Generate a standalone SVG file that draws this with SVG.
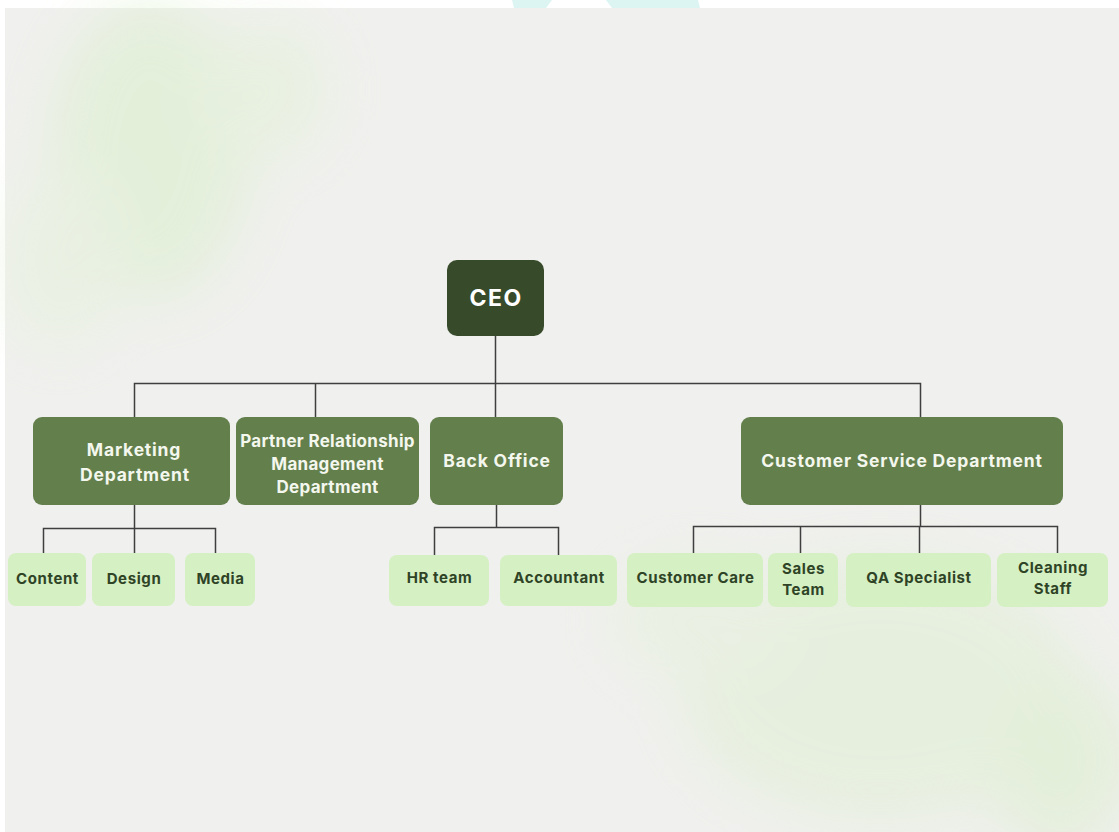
<svg xmlns="http://www.w3.org/2000/svg" width="1119" height="832" viewBox="0 0 1119 832">
  <defs>
    <filter id="wash" x="-50%" y="-50%" width="200%" height="200%">
      <feGaussianBlur stdDeviation="28"/>
    </filter>
    <style>
      .dept rect { fill: #637f4b; }
      .dept text { fill: #f4f7ee; font-family: Inter, "Liberation Sans", sans-serif; font-weight: 700; font-size: 17.5px; letter-spacing: 0.8px; text-anchor: middle; }
      #partner text { font-size: 17px; letter-spacing: 0.3px; }
      .team rect { fill: #d5f0c3; }
      .team text { fill: #2f4426; font-family: Inter, "Liberation Sans", sans-serif; font-weight: 700; font-size: 15px; letter-spacing: 0.6px; text-anchor: middle; }
      .links path { fill: none; stroke: #3f3f3f; stroke-width: 1.5; }
    </style>
  </defs>

  <!-- paper -->
  <rect x="0" y="0" width="1119" height="832" fill="#ffffff"/>
  <rect x="5" y="8" width="1114" height="824" fill="#f0f0ee"/>

  <!-- logo fragment above the paper -->
  <polygon points="512,0 552,0 546,8 514,8" fill="#ddf5f2"/>
  <polygon points="606,0 698,0 700,8 612,8" fill="#ddf5f2"/>

  <!-- soft watercolour washes -->
  <g filter="url(#wash)" opacity="0.45">
    <ellipse cx="150" cy="150" rx="100" ry="150" fill="#d6efc4"/>
    <ellipse cx="270" cy="90" rx="60" ry="70" fill="#e0f2d2"/>
    <ellipse cx="60" cy="260" rx="60" ry="90" fill="#e2f2d6"/>
    <ellipse cx="880" cy="690" rx="200" ry="130" fill="#dcefcc"/>
    <ellipse cx="1060" cy="760" rx="70" ry="90" fill="#d5eec2"/>
    <ellipse cx="700" cy="620" rx="90" ry="60" fill="#e2f1d6"/>
  </g>

  <!-- connectors -->
  <g class="links" id="connectors">
    <path d="M495.5,336 V383.5"/>
    <path d="M134.5,417 V383.5 H920.5 V417"/>
    <path d="M315.5,383.5 V417"/>
    <path d="M495.5,383.5 V417"/>
    <path d="M134.5,505 V528.5"/>
    <path d="M43.5,553 V528.5 H215.5 V553"/>
    <path d="M134.5,528.5 V553"/>
    <path d="M496.5,505 V527.5"/>
    <path d="M434.5,555 V527.5 H558.5 V555"/>
    <path d="M920.5,505 V526.5"/>
    <path d="M693.5,553 V526.5 H1057.5 V553"/>
    <path d="M800.5,526.5 V553"/>
    <path d="M919.5,526.5 V553"/>
  </g>

  <!-- top -->
  <g id="ceo">
    <rect x="447" y="260" width="97" height="76" rx="10" fill="#374b2b"/>
    <text x="496" y="306" fill="#ffffff" font-family="Inter, 'Liberation Sans', sans-serif" font-weight="700" font-size="23" letter-spacing="1.5" text-anchor="middle">CEO</text>
  </g>

  <!-- departments -->
  <g id="marketing" class="dept">
    <rect x="33" y="417" width="197" height="88" rx="9"/>
    <text x="134" y="456">Marketing</text>
    <text x="135" y="481">Department</text>
  </g>
  <g id="partner" class="dept">
    <rect x="236" y="417" width="183" height="88" rx="9"/>
    <text x="327.5" y="447">Partner Relationship</text>
    <text x="327.5" y="470">Management</text>
    <text x="327.5" y="493">Department</text>
  </g>
  <g id="back-office" class="dept">
    <rect x="430" y="417" width="133" height="88" rx="9"/>
    <text x="497" y="467">Back Office</text>
  </g>
  <g id="customer-service" class="dept">
    <rect x="741" y="417" width="322" height="88" rx="9"/>
    <text x="902" y="467">Customer Service Department</text>
  </g>

  <!-- teams -->
  <g id="content" class="team">
    <rect x="8" y="553" width="78" height="53" rx="8"/>
    <text x="47.5" y="584">Content</text>
  </g>
  <g id="design" class="team">
    <rect x="92" y="553" width="83" height="53" rx="8"/>
    <text x="134" y="584">Design</text>
  </g>
  <g id="media" class="team">
    <rect x="185" y="553" width="70" height="53" rx="8"/>
    <text x="220.5" y="584">Media</text>
  </g>
  <g id="hr-team" class="team">
    <rect x="389" y="555" width="100" height="51" rx="8"/>
    <text x="439.5" y="583">HR team</text>
  </g>
  <g id="accountant" class="team">
    <rect x="500" y="555" width="117" height="51" rx="8"/>
    <text x="559" y="583">Accountant</text>
  </g>
  <g id="customer-care" class="team">
    <rect x="627" y="553" width="136" height="54" rx="8"/>
    <text x="695.5" y="583">Customer Care</text>
  </g>
  <g id="sales-team" class="team">
    <rect x="768" y="553" width="70" height="54" rx="8"/>
    <text x="803.5" y="574">Sales</text>
    <text x="803.5" y="595">Team</text>
  </g>
  <g id="qa-specialist" class="team">
    <rect x="846" y="553" width="145" height="54" rx="8"/>
    <text x="919" y="583">QA Specialist</text>
  </g>
  <g id="cleaning-staff" class="team">
    <rect x="997" y="553" width="111" height="54" rx="8"/>
    <text x="1053" y="573">Cleaning</text>
    <text x="1053" y="594">Staff</text>
  </g>
</svg>
